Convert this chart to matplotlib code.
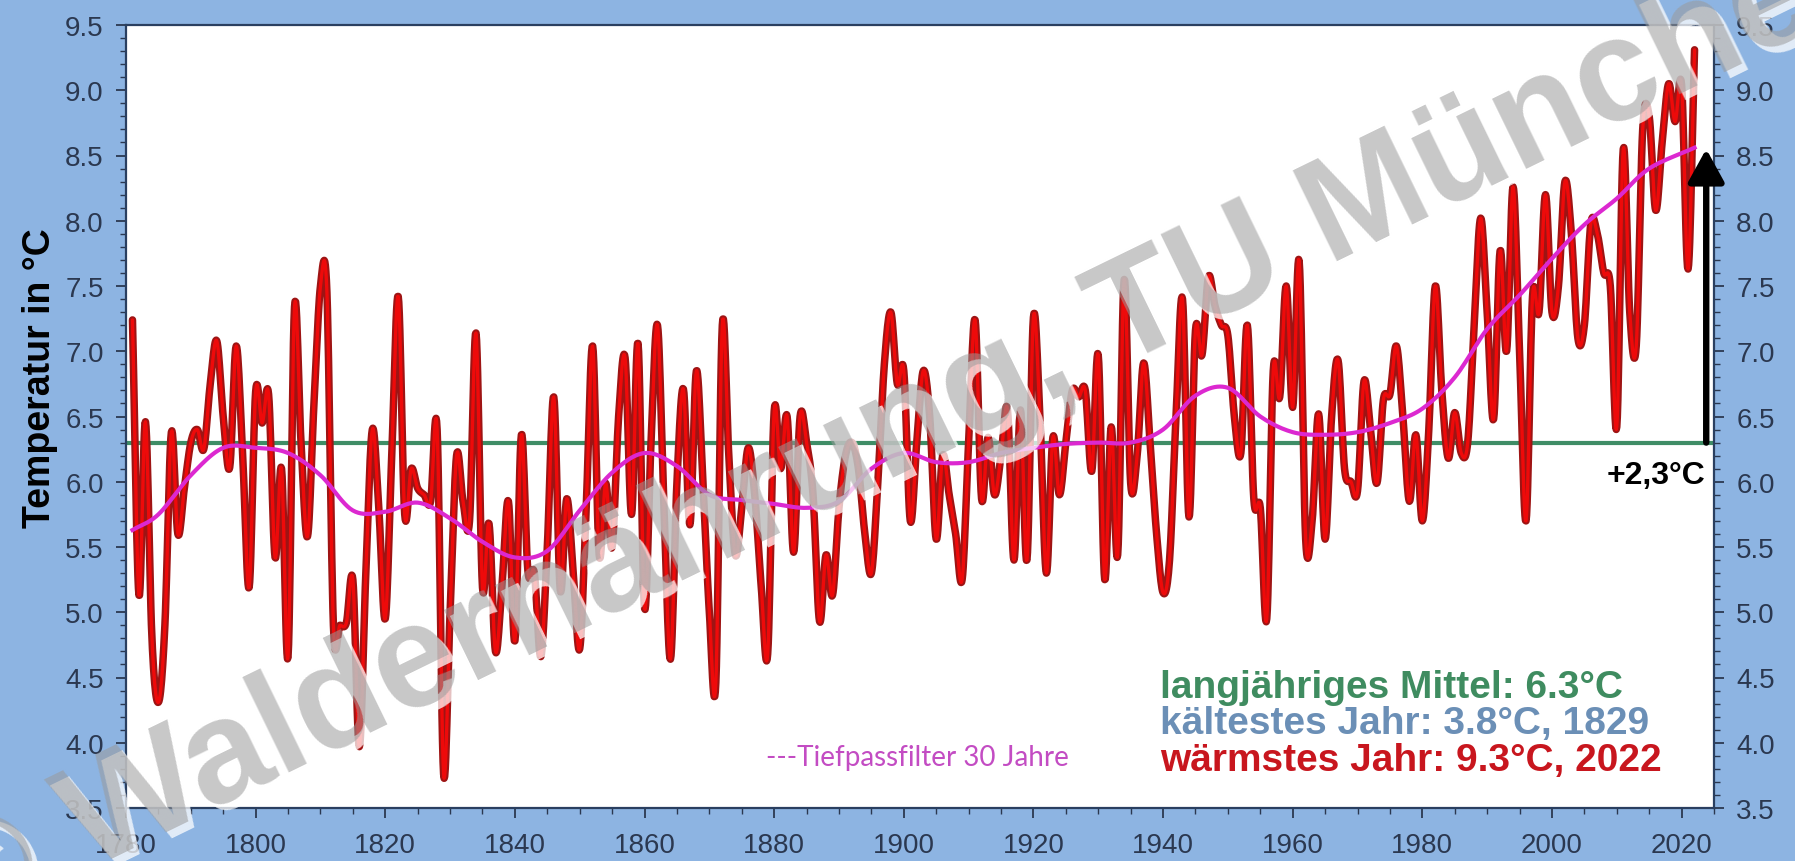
import matplotlib
matplotlib.use('Agg')
import matplotlib.pyplot as plt
import numpy as np
from matplotlib.ticker import MultipleLocator

# annual mean temperature, 1781-2022
years = list(range(1781, 2023))
temps = [
    7.24, 5.13, 6.46, 4.8, 4.31, 4.9, 6.38, 5.6, 5.95, 6.3,
    6.4, 6.25, 6.75, 7.08, 6.5, 6.11, 7.04, 6.2, 5.19, 6.69,
    6.45, 6.67, 5.42, 6.1, 4.66, 7.34, 6.3, 5.58, 6.6, 7.5,
    7.45, 4.9, 4.9, 4.92, 5.25, 3.97, 5.3, 6.4, 5.8, 4.95,
    6.2, 7.42, 5.75, 6.1, 5.95, 5.9, 5.85, 6.4, 3.76, 5.0,
    6.2, 5.85, 5.7, 7.14, 5.19, 5.68, 4.7, 5.2, 5.85, 4.78,
    6.36, 5.32, 5.3, 4.66, 5.5, 6.65, 5.17, 5.87, 5.3, 4.72,
    5.8, 7.04, 5.44, 5.99, 5.5, 6.5, 6.95, 5.75, 7.06, 5.03,
    6.3, 7.2, 5.8, 4.64, 6.0, 6.71, 5.67, 6.85, 6.0, 5.0,
    4.46, 7.2, 6.2, 5.44, 5.8, 6.26, 5.9, 5.2, 4.68, 6.54,
    6.1, 6.5, 5.46, 6.5, 6.3, 5.9, 4.93, 5.44, 5.13, 5.8,
    6.2, 6.3, 6.1, 5.6, 5.3, 6.0, 6.9, 7.3, 6.75, 6.85,
    5.7, 6.3, 6.85, 6.5, 5.56, 6.2, 5.9, 5.6, 5.25, 6.3,
    7.24, 5.87, 6.34, 5.9, 6.2, 6.55, 5.4, 6.55, 5.4, 7.26,
    6.5, 5.3, 6.34, 5.9, 6.3, 6.7, 6.65, 6.7, 6.08, 6.97,
    5.25, 6.42, 5.44, 7.55, 5.99, 6.2, 6.91, 6.3, 5.6, 5.15,
    5.4, 6.5, 7.4, 5.73, 7.16, 6.97, 7.57, 7.35, 7.2, 7.12,
    6.5, 6.22, 7.2, 5.87, 5.8, 4.95, 6.85, 6.65, 7.5, 6.57,
    7.69, 5.56, 5.7, 6.52, 5.56, 6.5, 6.93, 6.1, 6.0, 5.93,
    6.77, 6.4, 5.99, 6.63, 6.67, 7.04, 6.5, 5.85, 6.36, 5.7,
    6.4, 7.5, 6.7, 6.18, 6.53, 6.22, 6.3, 7.2, 8.02, 7.3,
    6.48, 7.77, 7.0, 8.26, 7.0, 5.7, 7.42, 7.3, 8.2, 7.3,
    7.5, 8.3, 7.9, 7.1, 7.2, 7.98, 7.9, 7.6, 7.5, 6.42,
    8.55, 7.3, 7.04, 8.7, 8.8, 8.08, 8.6, 9.05, 8.76, 9.04,
    7.63, 9.31,
]

# 30-year low-pass curve
lp_years = [1781, 1785, 1790, 1795, 1800, 1805, 1810, 1815, 1820, 1825,
            1830, 1835, 1840, 1845, 1850, 1855, 1860, 1865, 1870, 1875,
            1880, 1885, 1890, 1895, 1900, 1905, 1910, 1915, 1920, 1925,
            1930, 1935, 1940, 1945, 1950, 1955, 1960, 1965, 1970, 1975,
            1980, 1985, 1990, 1995, 2000, 2005, 2010, 2015, 2022]
lp_temps = [5.63, 5.75, 6.05, 6.26, 6.26, 6.22, 6.05, 5.78, 5.77, 5.84,
            5.72, 5.54, 5.42, 5.47, 5.78, 6.07, 6.22, 6.12, 5.9, 5.86,
            5.83, 5.8, 5.85, 6.1, 6.22, 6.15, 6.15, 6.22, 6.26, 6.29,
            6.3, 6.3, 6.4, 6.66, 6.72, 6.5, 6.38, 6.36, 6.38, 6.45,
            6.56, 6.8, 7.17, 7.43, 7.71, 7.97, 8.17, 8.4, 8.56]

mean_temp = 6.3
trend_from = 6.3
trend_to = 8.55


def smooth(x, y, n=12):
    # Catmull-Rom curve through the points, like Excel's smoothed line
    x = np.asarray(x, float)
    y = np.asarray(y, float)
    out = []
    for v in (x, y):
        p = np.concatenate([[2 * v[0] - v[1]], v, [2 * v[-1] - v[-2]]])
        p0, p1, p2, p3 = p[:-3], p[1:-2], p[2:-1], p[3:]
        t = np.linspace(0, 1, n, endpoint=False)[:, None]
        c = 0.5 * (2 * p1 + (-p0 + p2) * t + (2 * p0 - 5 * p1 + 4 * p2 - p3) * t ** 2
                   + (-p0 + 3 * p1 - 3 * p2 + p3) * t ** 3)
        out.append(np.append(c.T.ravel(), v[-1]))
    return out


bg = '#8db4e2'
tick_col = '#2b3850'
arial = ['Liberation Sans', 'DejaVu Sans']

fig = plt.figure(figsize=(17.95, 8.62), dpi=100, facecolor=bg)
ax = fig.add_axes([126 / 1795, 1 - 809 / 862, 1588 / 1795, 783 / 862])
ax.set_facecolor('white')

ax.axhline(mean_temp, color='#3f8d66', lw=3, zorder=2)

sx, sy = smooth(years, temps)
ax.plot(sx, sy, color='#9e1414', lw=5.4, solid_capstyle='round', zorder=3)
ax.plot(sx, sy, color='#ee0a0a', lw=2.4, solid_capstyle='round', zorder=4)

lx, ly = smooth(lp_years, lp_temps)
ax.plot(lx, ly, color='#dc28d0', lw=3.0, zorder=5)

ax.annotate('', xy=(2023.8, trend_to), xytext=(2023.8, trend_from),
            arrowprops=dict(arrowstyle='-|>,head_length=20,head_width=11',
                            mutation_scale=1, color='black', lw=4.6,
                            shrinkA=0, shrinkB=0),
            annotation_clip=False, zorder=6)
ax.text(2023.6, 6.05, '+2,3°C', ha='right', va='center', fontsize=23,
        fontweight='bold', family=arial, color='black', zorder=6)

ax.text(1878.8, 3.89, '---Tiefpassfilter 30 Jahre', ha='left', va='center',
        fontsize=20, family=['Lato', 'DejaVu Sans'], color='#c34cc3')
ax.text(1939.5, 4.43, 'langjähriges Mittel: 6.3°C', ha='left', va='center',
        fontsize=28, fontweight='bold', family=arial, color='#3f8c60')
ax.text(1939.5, 4.15, 'kältestes Jahr: 3.8°C, 1829', ha='left', va='center',
        fontsize=28, fontweight='bold', family=arial, color='#6b8fb6')
ax.text(1939.5, 3.87, 'wärmstes Jahr: 9.3°C, 2022', ha='left', va='center',
        fontsize=28, fontweight='bold', family=arial, color='#c8161e')

ax.set_xlim(1780, 2025)
ax.set_ylim(3.5, 9.5)
ax.xaxis.set_major_locator(MultipleLocator(20))
ax.xaxis.set_minor_locator(MultipleLocator(5))
ax.yaxis.set_major_locator(MultipleLocator(0.5))
ax.yaxis.set_minor_locator(MultipleLocator(0.1))
ax.yaxis.set_major_formatter(matplotlib.ticker.FormatStrFormatter('%.1f'))
ax.tick_params(which='both', direction='out', color='#2b3850', labelcolor=tick_col,
               labelsize=20, left=True, right=True, labelleft=True, labelright=True)
ax.tick_params(which='major', length=7, width=1.3)
ax.tick_params(which='minor', length=4, width=1)
ax.tick_params(axis='x', pad=10)
ax.tick_params(axis='y', pad=9)
for lab in ax.get_xticklabels() + ax.get_yticklabels():
    lab.set_family(arial)
for s in ax.spines.values():
    s.set_color('#2a3f60')
    s.set_linewidth(1.6)

fig.text(40 / 1795, 1 - 378 / 862, 'Temperatur in °C', rotation=90, ha='center',
         va='center', fontsize=27, fontweight='bold', family=arial, color='black')

# watermark
wm = '© Waldernährung, TU München'
ox, oy = -45 / 1795, 1 - 935 / 862
fig.text(ox + 6 / 1795, oy - 6 / 862, wm, rotation=26, rotation_mode='anchor',
         ha='left', va='baseline', fontsize=105, fontweight='bold', family=arial,
         color='white', alpha=0.75, zorder=10)
fig.text(ox, oy, wm, rotation=26, rotation_mode='anchor', ha='left', va='baseline',
         fontsize=105, fontweight='bold', family=arial, color='#9a9a9a',
         alpha=0.55, zorder=11)

fig.savefig('out.png', dpi=100, facecolor=bg)
